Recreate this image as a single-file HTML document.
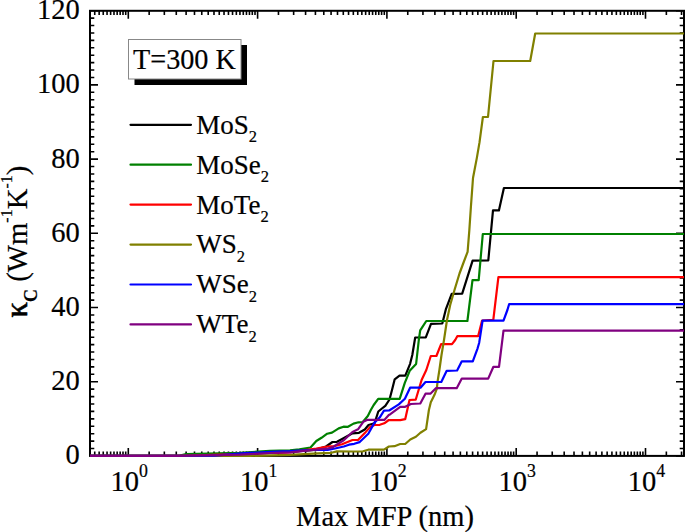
<!DOCTYPE html>
<html><head><meta charset="utf-8"><style>
html,body{margin:0;padding:0;background:#fff;width:685px;height:532px;overflow:hidden}
svg{position:absolute;left:0;top:0}
text{font-family:"Liberation Serif",serif;fill:#000;stroke:#000;stroke-width:0.2px}
</style></head><body>
<svg width="685" height="532" viewBox="0 0 685 532">

<path d="M90 455.95h8 M684 455.95h-8 M90 448.53h4.3 M684 448.53h-4.3 M90 441.11h4.3 M684 441.11h-4.3 M90 433.69h4.3 M684 433.69h-4.3 M90 426.27h4.3 M684 426.27h-4.3 M90 418.84h4.3 M684 418.84h-4.3 M90 411.42h4.3 M684 411.42h-4.3 M90 404.00h4.3 M684 404.00h-4.3 M90 396.58h4.3 M684 396.58h-4.3 M90 389.16h4.3 M684 389.16h-4.3 M90 381.74h8 M684 381.74h-8 M90 374.32h4.3 M684 374.32h-4.3 M90 366.90h4.3 M684 366.90h-4.3 M90 359.48h4.3 M684 359.48h-4.3 M90 352.06h4.3 M684 352.06h-4.3 M90 344.63h4.3 M684 344.63h-4.3 M90 337.21h4.3 M684 337.21h-4.3 M90 329.79h4.3 M684 329.79h-4.3 M90 322.37h4.3 M684 322.37h-4.3 M90 314.95h4.3 M684 314.95h-4.3 M90 307.53h8 M684 307.53h-8 M90 300.11h4.3 M684 300.11h-4.3 M90 292.69h4.3 M684 292.69h-4.3 M90 285.27h4.3 M684 285.27h-4.3 M90 277.85h4.3 M684 277.85h-4.3 M90 270.42h4.3 M684 270.42h-4.3 M90 263.00h4.3 M684 263.00h-4.3 M90 255.58h4.3 M684 255.58h-4.3 M90 248.16h4.3 M684 248.16h-4.3 M90 240.74h4.3 M684 240.74h-4.3 M90 233.32h8 M684 233.32h-8 M90 225.90h4.3 M684 225.90h-4.3 M90 218.48h4.3 M684 218.48h-4.3 M90 211.06h4.3 M684 211.06h-4.3 M90 203.64h4.3 M684 203.64h-4.3 M90 196.21h4.3 M684 196.21h-4.3 M90 188.79h4.3 M684 188.79h-4.3 M90 181.37h4.3 M684 181.37h-4.3 M90 173.95h4.3 M684 173.95h-4.3 M90 166.53h4.3 M684 166.53h-4.3 M90 159.11h8 M684 159.11h-8 M90 151.69h4.3 M684 151.69h-4.3 M90 144.27h4.3 M684 144.27h-4.3 M90 136.85h4.3 M684 136.85h-4.3 M90 129.43h4.3 M684 129.43h-4.3 M90 122.00h4.3 M684 122.00h-4.3 M90 114.58h4.3 M684 114.58h-4.3 M90 107.16h4.3 M684 107.16h-4.3 M90 99.74h4.3 M684 99.74h-4.3 M90 92.32h4.3 M684 92.32h-4.3 M90 84.90h8 M684 84.90h-8 M90 77.48h4.3 M684 77.48h-4.3 M90 70.06h4.3 M684 70.06h-4.3 M90 62.64h4.3 M684 62.64h-4.3 M90 55.22h4.3 M684 55.22h-4.3 M90 47.79h4.3 M684 47.79h-4.3 M90 40.37h4.3 M684 40.37h-4.3 M90 32.95h4.3 M684 32.95h-4.3 M90 25.53h4.3 M684 25.53h-4.3 M90 18.11h4.3 M684 18.11h-4.3 M90 10.69h8 M684 10.69h-8 M94.73 455.9v-4.3 M94.73 10.8v4.3 M99.15 455.9v-4.3 M99.15 10.8v4.3 M103.24 455.9v-4.3 M103.24 10.8v4.3 M107.05 455.9v-4.3 M107.05 10.8v4.3 M110.63 455.9v-4.3 M110.63 10.8v4.3 M113.99 455.9v-4.3 M113.99 10.8v4.3 M117.16 455.9v-4.3 M117.16 10.8v4.3 M120.16 455.9v-4.3 M120.16 10.8v4.3 M123.00 455.9v-4.3 M123.00 10.8v4.3 M125.71 455.9v-4.3 M125.71 10.8v4.3 M128.30 455.9v-8 M128.30 10.8v8 M149.16 455.9v-4.3 M149.16 10.8v4.3 M164.34 455.9v-4.3 M164.34 10.8v4.3 M176.28 455.9v-4.3 M176.28 10.8v4.3 M186.12 455.9v-4.3 M186.12 10.8v4.3 M194.49 455.9v-4.3 M194.49 10.8v4.3 M201.77 455.9v-4.3 M201.77 10.8v4.3 M208.21 455.9v-4.3 M208.21 10.8v4.3 M213.99 455.9v-4.3 M213.99 10.8v4.3 M219.24 455.9v-4.3 M219.24 10.8v4.3 M224.03 455.9v-4.3 M224.03 10.8v4.3 M228.45 455.9v-4.3 M228.45 10.8v4.3 M232.54 455.9v-4.3 M232.54 10.8v4.3 M236.35 455.9v-4.3 M236.35 10.8v4.3 M239.93 455.9v-4.3 M239.93 10.8v4.3 M243.29 455.9v-4.3 M243.29 10.8v4.3 M246.46 455.9v-4.3 M246.46 10.8v4.3 M249.46 455.9v-4.3 M249.46 10.8v4.3 M252.30 455.9v-4.3 M252.30 10.8v4.3 M255.01 455.9v-4.3 M255.01 10.8v4.3 M257.60 455.9v-8 M257.60 10.8v8 M278.46 455.9v-4.3 M278.46 10.8v4.3 M293.64 455.9v-4.3 M293.64 10.8v4.3 M305.58 455.9v-4.3 M305.58 10.8v4.3 M315.42 455.9v-4.3 M315.42 10.8v4.3 M323.79 455.9v-4.3 M323.79 10.8v4.3 M331.07 455.9v-4.3 M331.07 10.8v4.3 M337.51 455.9v-4.3 M337.51 10.8v4.3 M343.29 455.9v-4.3 M343.29 10.8v4.3 M348.54 455.9v-4.3 M348.54 10.8v4.3 M353.33 455.9v-4.3 M353.33 10.8v4.3 M357.75 455.9v-4.3 M357.75 10.8v4.3 M361.84 455.9v-4.3 M361.84 10.8v4.3 M365.65 455.9v-4.3 M365.65 10.8v4.3 M369.23 455.9v-4.3 M369.23 10.8v4.3 M372.59 455.9v-4.3 M372.59 10.8v4.3 M375.76 455.9v-4.3 M375.76 10.8v4.3 M378.76 455.9v-4.3 M378.76 10.8v4.3 M381.60 455.9v-4.3 M381.60 10.8v4.3 M384.31 455.9v-4.3 M384.31 10.8v4.3 M386.90 455.9v-8 M386.90 10.8v8 M407.76 455.9v-4.3 M407.76 10.8v4.3 M422.94 455.9v-4.3 M422.94 10.8v4.3 M434.88 455.9v-4.3 M434.88 10.8v4.3 M444.72 455.9v-4.3 M444.72 10.8v4.3 M453.09 455.9v-4.3 M453.09 10.8v4.3 M460.37 455.9v-4.3 M460.37 10.8v4.3 M466.81 455.9v-4.3 M466.81 10.8v4.3 M472.59 455.9v-4.3 M472.59 10.8v4.3 M477.84 455.9v-4.3 M477.84 10.8v4.3 M482.63 455.9v-4.3 M482.63 10.8v4.3 M487.05 455.9v-4.3 M487.05 10.8v4.3 M491.14 455.9v-4.3 M491.14 10.8v4.3 M494.95 455.9v-4.3 M494.95 10.8v4.3 M498.53 455.9v-4.3 M498.53 10.8v4.3 M501.89 455.9v-4.3 M501.89 10.8v4.3 M505.06 455.9v-4.3 M505.06 10.8v4.3 M508.06 455.9v-4.3 M508.06 10.8v4.3 M510.90 455.9v-4.3 M510.90 10.8v4.3 M513.61 455.9v-4.3 M513.61 10.8v4.3 M516.20 455.9v-8 M516.20 10.8v8 M537.06 455.9v-4.3 M537.06 10.8v4.3 M552.24 455.9v-4.3 M552.24 10.8v4.3 M564.18 455.9v-4.3 M564.18 10.8v4.3 M574.02 455.9v-4.3 M574.02 10.8v4.3 M582.39 455.9v-4.3 M582.39 10.8v4.3 M589.67 455.9v-4.3 M589.67 10.8v4.3 M596.11 455.9v-4.3 M596.11 10.8v4.3 M601.89 455.9v-4.3 M601.89 10.8v4.3 M607.14 455.9v-4.3 M607.14 10.8v4.3 M611.93 455.9v-4.3 M611.93 10.8v4.3 M616.35 455.9v-4.3 M616.35 10.8v4.3 M620.44 455.9v-4.3 M620.44 10.8v4.3 M624.25 455.9v-4.3 M624.25 10.8v4.3 M627.83 455.9v-4.3 M627.83 10.8v4.3 M631.19 455.9v-4.3 M631.19 10.8v4.3 M634.36 455.9v-4.3 M634.36 10.8v4.3 M637.36 455.9v-4.3 M637.36 10.8v4.3 M640.20 455.9v-4.3 M640.20 10.8v4.3 M642.91 455.9v-4.3 M642.91 10.8v4.3 M645.50 455.9v-8 M645.50 10.8v8 M666.36 455.9v-4.3 M666.36 10.8v4.3 M681.54 455.9v-4.3 M681.54 10.8v4.3" stroke="#000" stroke-width="1.6" fill="none"/>
<rect x="90" y="10.8" width="594" height="445.09999999999997" fill="none" stroke="#000" stroke-width="2"/>
<text transform="translate(79.7 464.4) scale(1 1.05)" font-size="28.5" text-anchor="end">0</text>
<text transform="translate(79.7 390.2) scale(1 1.05)" font-size="28.5" text-anchor="end">20</text>
<text transform="translate(79.7 316.0) scale(1 1.05)" font-size="28.5" text-anchor="end">40</text>
<text transform="translate(79.7 241.8) scale(1 1.05)" font-size="28.5" text-anchor="end">60</text>
<text transform="translate(79.7 167.6) scale(1 1.05)" font-size="28.5" text-anchor="end">80</text>
<text transform="translate(79.7 93.4) scale(1 1.05)" font-size="28.5" text-anchor="end">100</text>
<text transform="translate(79.7 19.2) scale(1 1.05)" font-size="28.5" text-anchor="end">120</text>
<text transform="translate(129.3 491.1) scale(1 1.04)" font-size="28.5" text-anchor="middle">10<tspan dy="-13.5" font-size="17.8">0</tspan></text>
<text transform="translate(258.6 491.1) scale(1 1.04)" font-size="28.5" text-anchor="middle">10<tspan dy="-13.5" font-size="17.8">1</tspan></text>
<text transform="translate(387.9 491.1) scale(1 1.04)" font-size="28.5" text-anchor="middle">10<tspan dy="-13.5" font-size="17.8">2</tspan></text>
<text transform="translate(517.2 491.1) scale(1 1.04)" font-size="28.5" text-anchor="middle">10<tspan dy="-13.5" font-size="17.8">3</tspan></text>
<text transform="translate(646.5 491.1) scale(1 1.04)" font-size="28.5" text-anchor="middle">10<tspan dy="-13.5" font-size="17.8">4</tspan></text>
<text x="385" y="526" font-size="28.5" text-anchor="middle">Max MFP (nm)</text>
<text transform="translate(26.5 241.5) rotate(-90)" font-size="28.8" text-anchor="middle"><tspan font-size="30.5" style="stroke-width:0.6px">κ</tspan><tspan dy="10" font-size="18" font-weight="bold">C</tspan><tspan dy="-10"> (Wm</tspan><tspan dy="-15" font-size="16">-1</tspan><tspan dy="15">K</tspan><tspan dy="-15" font-size="16">-1</tspan><tspan dy="15">)</tspan></text>
<rect x="134.5" y="45" width="112.5" height="40" fill="#000"/>
<rect x="128.5" y="39.5" width="112.5" height="39.5" fill="#fff" stroke="#888" stroke-width="1"/>
<text transform="translate(133 68.7) scale(0.99 1.05)" font-size="28.5">T=300 K</text>
<path d="M130.5 124.8H191" stroke="#000000" stroke-width="2.2" stroke-linecap="round"/>
<text x="196.3" y="133.7" font-size="27">MoS<tspan dy="8.5" font-size="16.5">2</tspan></text>
<path d="M130.5 164.7H191" stroke="#008000" stroke-width="2.2" stroke-linecap="round"/>
<text x="196.3" y="173.6" font-size="27">MoSe<tspan dy="8.5" font-size="16.5">2</tspan></text>
<path d="M130.5 204.6H191" stroke="#ff0000" stroke-width="2.2" stroke-linecap="round"/>
<text x="196.3" y="213.5" font-size="27">MoTe<tspan dy="8.5" font-size="16.5">2</tspan></text>
<path d="M130.5 244.6H191" stroke="#808000" stroke-width="2.2" stroke-linecap="round"/>
<text x="196.3" y="253.4" font-size="27">WS<tspan dy="8.5" font-size="16.5">2</tspan></text>
<path d="M130.5 284.5H191" stroke="#0000ff" stroke-width="2.2" stroke-linecap="round"/>
<text x="196.3" y="293.3" font-size="27">WSe<tspan dy="8.5" font-size="16.5">2</tspan></text>
<path d="M130.5 324.4H191" stroke="#800080" stroke-width="2.2" stroke-linecap="round"/>
<text x="196.3" y="333.3" font-size="27">WTe<tspan dy="8.5" font-size="16.5">2</tspan></text>
<polyline points="90.0,455.9 200.0,455.6 250.0,453.8 290.0,452.0 315.0,449.8 326.0,446.5 332.5,442.0 337.0,441.8 343.5,438.3 352.5,433.3 359.0,432.8 364.8,429.5 368.5,425.0 374.5,423.3 378.3,411.5 381.3,409.0 385.3,405.8 389.5,399.5 392.0,390.0 394.7,379.3 399.5,375.7 405.3,375.7 410.1,363.8 412.3,355.0 415.2,337.5 425.8,337.3 431.0,323.8 442.3,323.5 446.0,308.8 451.7,293.8 462.2,293.7 472.6,260.7 488.3,260.5 493.0,210.4 498.9,210.4 503.9,188.0 684.0,188.0" fill="none" stroke="#000000" stroke-width="2.2" stroke-linejoin="round"/>
<polyline points="90.0,455.9 180.0,455.5 186.0,454.2 240.0,452.8 270.0,450.8 290.0,450.4 299.4,449.3 310.5,447.5 316.3,441.0 321.5,437.8 327.2,433.7 332.0,432.6 338.7,428.4 343.5,426.7 348.0,426.8 353.5,423.6 358.5,422.3 362.8,422.0 367.8,416.0 370.8,410.0 373.7,405.0 378.2,398.9 399.7,398.8 404.8,382.8 409.7,370.8 416.1,364.0 418.8,340.0 420.2,330.4 422.0,327.6 426.3,321.0 467.4,321.0 472.5,280.1 478.7,280.1 482.8,234.0 684.0,234.0" fill="none" stroke="#008000" stroke-width="2.2" stroke-linejoin="round"/>
<polyline points="90.0,455.9 178.0,455.9 240.0,454.0 290.0,452.3 316.3,448.5 327.6,446.5 335.0,446.0 342.0,444.3 352.5,440.0 358.0,440.0 364.8,433.1 370.0,427.1 374.5,425.0 379.8,424.8 384.3,423.3 388.8,420.0 400.2,420.1 405.2,419.2 409.5,400.0 415.7,399.7 421.6,380.0 426.3,370.0 430.8,356.0 436.4,356.0 441.1,344.2 452.0,344.2 455.2,340.0 457.3,336.2 478.1,336.2 482.1,320.5 493.3,319.8 498.4,277.2 684.0,277.2" fill="none" stroke="#ff0000" stroke-width="2.2" stroke-linejoin="round"/>
<polyline points="90.0,455.9 250.0,455.9 290.0,454.9 318.0,453.4 331.4,452.8 337.0,451.4 352.5,451.5 363.0,451.3 368.3,449.7 384.0,449.7 388.9,446.5 394.5,446.2 400.2,444.0 405.2,444.0 410.3,439.5 415.9,436.7 420.4,432.7 426.1,429.1 428.9,410.0 430.8,402.3 434.5,394.8 436.8,388.8 437.6,381.3 439.4,370.0 441.5,355.0 444.0,340.0 447.0,320.0 450.2,305.0 454.5,290.0 459.5,273.5 463.0,264.0 467.6,251.8 469.3,230.7 471.0,205.4 472.5,185.0 473.0,178.0 476.9,157.6 479.5,142.4 482.9,117.0 488.0,117.0 493.5,61.0 530.2,61.0 535.2,33.5 684.0,33.5" fill="none" stroke="#808000" stroke-width="2.2" stroke-linejoin="round"/>
<polyline points="90.0,455.9 214.0,455.6 245.0,453.2 270.0,451.9 290.0,451.2 308.8,450.0 327.6,450.0 335.0,448.5 343.8,446.5 349.0,444.7 354.3,443.8 359.5,442.1 361.8,440.0 368.3,433.8 374.5,422.6 379.8,417.3 384.0,410.7 389.2,410.5 398.8,404.4 404.9,398.8 410.1,387.7 420.5,387.7 425.5,382.0 441.3,382.0 446.7,370.8 457.1,370.5 461.8,361.3 472.8,361.3 477.6,348.3 479.2,342.7 482.6,320.7 503.5,320.7 507.4,310.0 509.1,304.2 684.0,304.2" fill="none" stroke="#0000ff" stroke-width="2.2" stroke-linejoin="round"/>
<polyline points="90.0,455.9 180.0,455.9 240.0,454.6 270.0,453.0 290.0,452.3 308.8,450.4 327.6,448.5 333.2,447.1 335.0,445.6 343.8,440.3 352.5,432.0 358.0,429.3 363.3,421.8 367.0,419.9 384.3,419.9 388.8,415.0 390.0,414.4 400.2,406.8 405.2,406.8 410.9,404.0 420.3,403.5 425.5,393.7 430.4,393.7 436.1,388.0 456.7,388.2 461.8,378.6 488.2,378.6 493.4,366.8 499.0,366.8 503.5,330.7 684.0,330.7" fill="none" stroke="#800080" stroke-width="2.2" stroke-linejoin="round"/>
</svg></body></html>
